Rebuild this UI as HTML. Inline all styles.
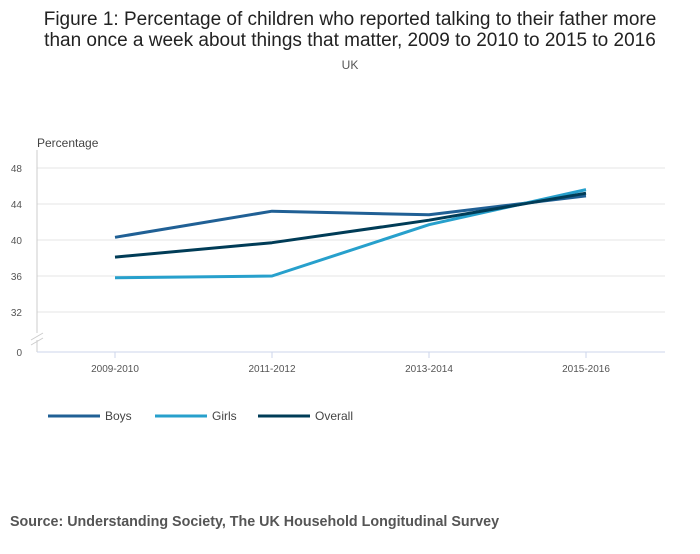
<!DOCTYPE html>
<html><head><meta charset="utf-8"><style>
body{margin:0;background:#fff;font-family:"Liberation Sans",sans-serif;}
</style></head><body>
<svg width="700" height="549" xmlns="http://www.w3.org/2000/svg" font-family="Liberation Sans, sans-serif">
<text x="350" y="25" text-anchor="middle" font-size="19" fill="#222">Figure 1: Percentage of children who reported talking to their father more</text>
<text x="350" y="46" text-anchor="middle" font-size="19" fill="#222">than once a week about things that matter, 2009 to 2010 to 2015 to 2016</text>
<text x="350" y="69" text-anchor="middle" font-size="12" fill="#555">UK</text>
<text x="37" y="147" font-size="12" fill="#444">Percentage</text>
<g id="grid"></g><g id="lines"></g><g id="xt"></g>
<text x="10" y="526" font-size="14.3" font-weight="bold" fill="#555">Source: Understanding Society, The UK Household Longitudinal Survey</text>
<g id="legend"></g>
</svg>
<script>
const categories=["2009-2010","2011-2012","2013-2014","2015-2016"];
const boys=[40.3,43.2,42.8,44.9];
const girls=[35.8,36.0,41.7,45.6];
const overall=[38.1,39.7,42.2,45.2];
const yTicks=[32,36,40,44,48];
const seriesNames=["Boys","Girls","Overall"];
const NS="http://www.w3.org/2000/svg";
function mk(t,a,p){const e=document.createElementNS(NS,t);for(const k in a)e.setAttribute(k,a[k]);p.appendChild(e);return e;}
const x=i=>115+i*157;
const y=v=>240-(v-40)*9;
const grid=document.getElementById('grid');
yTicks.forEach(v=>{
 const l=mk('line',{x1:37,x2:665,y1:y(v),y2:y(v),stroke:'#e5e5e5'},grid);
 
 
 const t=mk('text',{x:22,y:y(v)+4,'text-anchor':'end','font-size':10,fill:'#555'},grid);t.textContent=v;
 
 
});
const z=mk('text',{x:22,y:356,'text-anchor':'end','font-size':10,fill:'#555'},grid);z.textContent='0';


const ax=mk('path',{d:'M37 150V333M37 340V352M31 340L43 333M31 345L43 338',stroke:'#ccc',fill:'none'},grid);


const xa=mk('line',{x1:37,x2:665,y1:352,y2:352,stroke:'#ccd6eb'},grid);


const xt=document.getElementById('xt');
categories.forEach((c,i)=>{
 mk('line',{x1:x(i),x2:x(i),y1:352,y2:358,stroke:'#ccd6eb'},xt);
 const t=mk('text',{x:x(i),y:372,'text-anchor':'middle','font-size':10,fill:'#555'},xt);t.textContent=c;
 
 
});
const colors=["#206095","#27a0cc","#003c57"];
const data=[boys,girls,overall];
const lg=document.getElementById('legend');
data.forEach((s,k)=>{
 const p=mk('polyline',{points:s.map((v,i)=>x(i)+','+y(v)).join(' '),fill:'none',stroke:colors[k],'stroke-width':3,'stroke-linejoin':'round'},document.getElementById('lines'));
 
 
 const lx=[48,155,258][k];
 const g=mk('g',{},lg);
 
 
 mk('line',{x1:lx,x2:lx+52,y1:416,y2:416,stroke:colors[k],'stroke-width':3},g);
 const t=mk('text',{x:lx+57,y:420,'font-size':12,fill:'#444'},g);t.textContent=seriesNames[k];
});
</script>
</body></html>
